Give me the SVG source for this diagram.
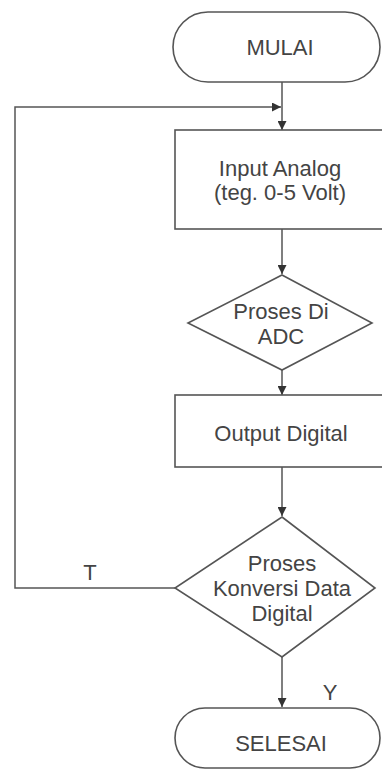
<svg xmlns="http://www.w3.org/2000/svg" width="382" height="780" viewBox="0 0 382 780">
<style>
.s{fill:#fff;stroke:#555;stroke-width:1.6}
.c{fill:none;stroke:#555;stroke-width:1.5}
.t{font-family:"Liberation Sans",Arial,sans-serif;font-size:22px;fill:#444;text-anchor:middle;dominant-baseline:central}
</style>
<defs>
<marker id="ah" viewBox="0 0 10 10" refX="10" refY="5" markerWidth="9" markerHeight="9" markerUnits="userSpaceOnUse" orient="auto">
<path d="M0,0 L10,5 L0,10 z" fill="#333"/>
</marker>
</defs>
<rect width="382" height="780" fill="#fff"/>
<g id="connectors">
<line class="c" x1="282" y1="82" x2="282" y2="130" marker-end="url(#ah)"/>
<polyline class="c" points="175,588 15,588 15,107 281,107" marker-end="url(#ah)"/>
<line class="c" x1="282" y1="229" x2="282" y2="274" marker-end="url(#ah)"/>
<line class="c" x1="282" y1="370" x2="282" y2="395" marker-end="url(#ah)"/>
<line class="c" x1="282" y1="467" x2="282" y2="516" marker-end="url(#ah)"/>
<line class="c" x1="282" y1="657" x2="282" y2="707" marker-end="url(#ah)"/>
<text class="t" x="90" y="572">T</text>
<text class="t" x="330" y="692">Y</text>
</g>
<g id="mulai">
<rect class="s" x="173" y="12" width="207" height="70" rx="35" ry="35"/>
<text class="t" x="280" y="47">MULAI</text>
</g>
<g id="input">
<rect class="s" x="175" y="130" width="220" height="99"/>
<text class="t" x="280" y="168">Input Analog</text>
<text class="t" x="280" y="192">(teg. 0-5 Volt)</text>
</g>
<g id="adc">
<polygon class="s" points="282,275 372,323 282,370 188,323"/>
<text class="t" x="281" y="311">Proses Di</text>
<text class="t" x="281" y="336">ADC</text>
</g>
<g id="output">
<rect class="s" x="175" y="395" width="220" height="72"/>
<text class="t" x="281" y="433">Output Digital</text>
</g>
<g id="konversi">
<polygon class="s" points="282,517 375,588 282,657 175,588"/>
<text class="t" x="282" y="563">Proses</text>
<text class="t" x="282" y="588">Konversi Data</text>
<text class="t" x="282" y="613">Digital</text>
</g>
<g id="selesai">
<rect class="s" x="175" y="708" width="205" height="60" rx="30" ry="30"/>
<text class="t" x="281" y="743">SELESAI</text>
</g>
</svg>
